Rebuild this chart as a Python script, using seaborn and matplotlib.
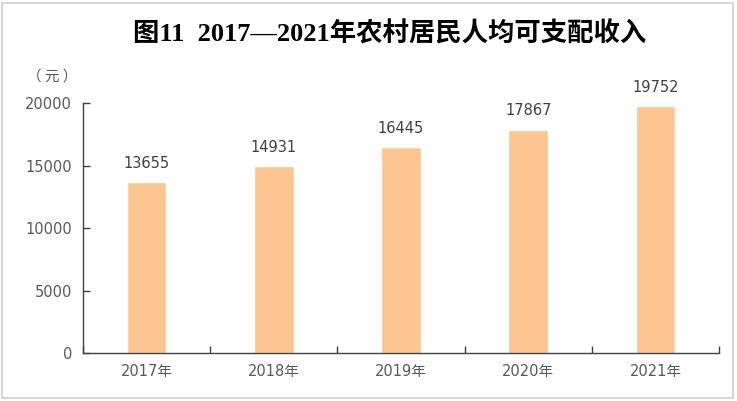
import matplotlib.pyplot as plt
import seaborn as sns
import pandas as pd
import numpy as np
from matplotlib.patches import Rectangle

years = ['2017年', '2018年', '2019年', '2020年', '2021年']
income = [13655, 14931, 16445, 17867, 19752]
yticks = [0, 5000, 10000, 15000, 20000]

df = pd.DataFrame({'year': years, 'income': income})

sns.set_style('white')
plt.rcParams['font.family'] = ['DejaVu Sans', 'Noto Sans CJK SC']

fig = plt.figure(figsize=(7.37, 4.01), dpi=100)
ax = fig.add_axes([0.1126, 0.1197, 0.8630, 0.6233])

sns.barplot(data=df, x='year', y='income', color='#FDC591', width=0.31,
            saturation=1, ax=ax)

ax.set_xlim(-0.5, 4.5)
ax.set_ylim(0, 20000)
ax.set_yticks(yticks)
ax.set_xlabel('')
ax.set_ylabel('')

for i, v in enumerate(income):
    ax.text(i, v + 900, str(v), ha='center', va='bottom', fontsize=10.5,
            color='#404040')

ax.spines['top'].set_visible(False)
ax.spines['right'].set_visible(False)
for s in ['left', 'bottom']:
    ax.spines[s].set_color('#404040')
    ax.spines[s].set_linewidth(1.0)

ax.tick_params(axis='y', direction='in', length=5, width=1, color='#404040',
               labelsize=10.5, labelcolor='#595959', pad=8, left=True)
ax.tick_params(axis='x', which='major', length=0, labelsize=10.5,
               labelcolor='#595959', pad=8)
ax.set_xticks(np.arange(-0.5, 5, 1), minor=True)
ax.tick_params(axis='x', which='minor', direction='in', length=5, width=1,
               color='#404040', bottom=True)
for lbl in ax.get_xticklabels():
    lbl.set_family(['DejaVu Sans', 'Noto Sans CJK SC'])

fig.text(0.071, 0.810, '（ 元 ）', ha='center', va='center', fontsize=10.5,
         color='#595959', family=['Noto Sans CJK SC'])

fig.text(0.529, 0.915, '图11  2017—2021年农村居民人均可支配收入', ha='center',
         va='center', fontsize=19, fontweight='bold', color='black',
         family=['Liberation Serif', 'Noto Sans CJK SC'])

fig.patches.append(Rectangle((0.003, 0.008), 0.992, 0.985,
                             transform=fig.transFigure, fill=False,
                             edgecolor='#d0d0d0', linewidth=1.2))

plt.savefig('out.png', dpi=100)
plt.close()
